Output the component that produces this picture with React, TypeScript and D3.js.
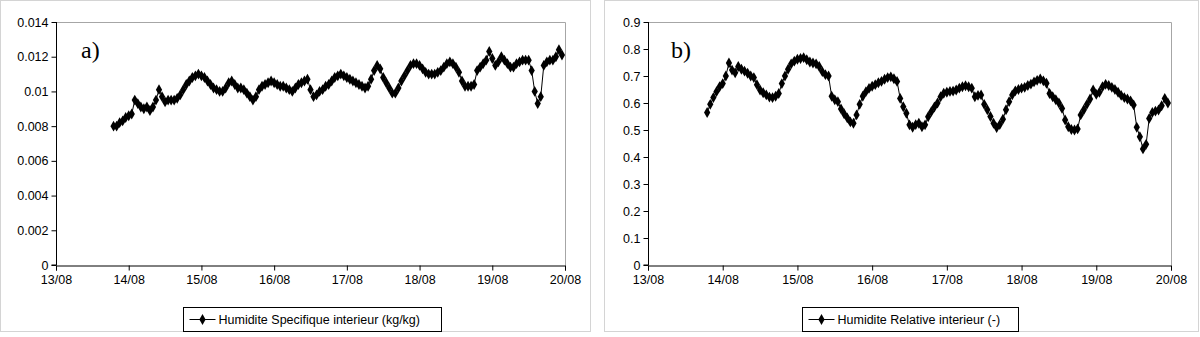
import React, { useEffect, useRef } from 'react';
import * as d3 from 'd3';

// jours (août) et début de la série : 13/08 19h00, pas horaire
const dayTicks = [13, 14, 15, 16, 17, 18, 19, 20];
const startDay = 13 + 19 / 24;
const stepDay = 1 / 24;

const specificTicks = [0, 0.002, 0.004, 0.006, 0.008, 0.01, 0.012, 0.014];
const relativeTicks = [0, 0.1, 0.2, 0.3, 0.4, 0.5, 0.6, 0.7, 0.8, 0.9];

// Humidite specifique interieur (kg/kg)
const specificHumidity = [
  0.0080, 0.0080, 0.0082, 0.0083, 0.0085, 0.0086, 0.0087, 0.0095, 0.0093, 0.0091,
  0.0090, 0.0091, 0.0089, 0.0091, 0.0095, 0.0101, 0.0097, 0.0094, 0.0095, 0.0095,
  0.0095, 0.0096, 0.0098, 0.0101, 0.0104, 0.0106, 0.0108, 0.0109, 0.0110, 0.0109,
  0.0108, 0.0106, 0.0104, 0.0102, 0.0101, 0.0100, 0.0100, 0.0102, 0.0105, 0.0106,
  0.0104, 0.0102, 0.0102, 0.0101, 0.0099, 0.0097, 0.0095, 0.0097, 0.0101, 0.0103,
  0.0104, 0.0105, 0.0106, 0.0105, 0.0104, 0.0103, 0.0103, 0.0102, 0.0101, 0.0100,
  0.0102, 0.0104, 0.0105, 0.0106, 0.0107, 0.0101, 0.0097, 0.0098, 0.0100, 0.0101,
  0.0103, 0.0104, 0.0106, 0.0108, 0.0109, 0.0110, 0.0109, 0.0108, 0.0107, 0.0106,
  0.0105, 0.0104, 0.0103, 0.0102, 0.0103, 0.0107, 0.0112, 0.0115, 0.0113, 0.0108,
  0.0105, 0.0102, 0.0099, 0.0099, 0.0102, 0.0106, 0.0109, 0.0112, 0.0115, 0.0116,
  0.0116, 0.0115, 0.0113, 0.0111, 0.0110, 0.0110, 0.0110, 0.0111, 0.0112, 0.0114,
  0.0116, 0.0117, 0.0116, 0.0114, 0.0111, 0.0106, 0.0103, 0.0103, 0.0103, 0.0104,
  0.0112, 0.0114, 0.0116, 0.0118, 0.0123, 0.0119, 0.0115, 0.0117, 0.0120, 0.0118,
  0.0116, 0.0114, 0.0114, 0.0116, 0.0117, 0.0118, 0.0118, 0.0118, 0.0112, 0.0100,
  0.0093, 0.0097, 0.0115, 0.0117, 0.0118, 0.0118, 0.0120, 0.0124, 0.0121,
];

// Humidite relative interieur (-)
const relativeHumidity = [
  0.565, 0.595, 0.620, 0.642, 0.660, 0.672, 0.700, 0.748, 0.722, 0.712,
  0.735, 0.725, 0.718, 0.710, 0.700, 0.694, 0.668, 0.648, 0.638, 0.630,
  0.622, 0.620, 0.625, 0.635, 0.672, 0.700, 0.725, 0.745, 0.755, 0.762,
  0.765, 0.768, 0.760, 0.752, 0.748, 0.745, 0.735, 0.716, 0.705, 0.700,
  0.625, 0.612, 0.605, 0.578, 0.560, 0.545, 0.530, 0.525, 0.556, 0.595,
  0.625, 0.642, 0.654, 0.662, 0.668, 0.675, 0.680, 0.688, 0.694, 0.697,
  0.690, 0.680, 0.617, 0.586, 0.562, 0.519, 0.510, 0.520, 0.525, 0.512,
  0.519, 0.549, 0.568, 0.585, 0.600, 0.623, 0.636, 0.640, 0.643, 0.644,
  0.648, 0.655, 0.660, 0.664, 0.660, 0.655, 0.623, 0.628, 0.630, 0.595,
  0.575, 0.550, 0.525, 0.509, 0.520, 0.540, 0.575, 0.605, 0.630, 0.645,
  0.650, 0.655, 0.658, 0.665, 0.670, 0.678, 0.684, 0.689, 0.682, 0.673,
  0.635, 0.623, 0.612, 0.600, 0.580, 0.537, 0.512, 0.502, 0.500, 0.504,
  0.556, 0.575, 0.595, 0.615, 0.648, 0.632, 0.640, 0.660, 0.669, 0.665,
  0.658, 0.650, 0.640, 0.628, 0.620, 0.615, 0.608, 0.593, 0.510, 0.475,
  0.430, 0.447, 0.543, 0.565, 0.570, 0.574, 0.590, 0.617, 0.600,
];

const panels = [
  {
    frame: { x: 0.5, y: 0.5, w: 590, h: 331 },
    plot: { left: 56, right: 565, top: 22, bottom: 265 },
    yTicks: specificTicks,
    digits: 3,
    values: specificHumidity,
    tag: 'a)',
    tagX: 81,
    legend: { x: 183.5, y: 307.5, w: 258, text: 'Humidite Specifique interieur (kg/kg)' },
  },
  {
    frame: { x: 604.5, y: 0.5, w: 594, h: 331 },
    plot: { left: 648, right: 1171, top: 22, bottom: 265 },
    yTicks: relativeTicks,
    digits: 1,
    values: relativeHumidity,
    tag: 'b)',
    tagX: 671,
    legend: { x: 802.5, y: 307.5, w: 216, text: 'Humidite Relative interieur (-)' },
  },
];

const App = () => {
  const chartRef = useRef<HTMLDivElement>(null);

  useEffect(() => {
    d3.select(chartRef.current).selectAll('*').remove();

    const svg = d3.select(chartRef.current)
      .append('svg')
      .attr('width', 1200)
      .attr('height', 337)
      .style('position', 'absolute')
      .style('left', 0)
      .style('top', 0)
      .style('font-family', '"Liberation Sans", Arial, sans-serif');

    svg.append('rect').attr('width', 1200).attr('height', 337).attr('fill', '#fff');

    const diamond = d3.symbol().type(d3.symbolDiamond).size(34);

    panels.forEach(p => {
      const { plot } = p;

      svg.append('rect')
        .attr('x', p.frame.x).attr('y', p.frame.y)
        .attr('width', p.frame.w).attr('height', p.frame.h)
        .attr('fill', 'none').attr('stroke', '#d4d4d4');

      const x = d3.scaleLinear()
        .domain([dayTicks[0], dayTicks[dayTicks.length - 1]])
        .range([plot.left, plot.right]);

      const y = d3.scaleLinear()
        .domain([0, p.yTicks[p.yTicks.length - 1]])
        .range([plot.bottom, plot.top]);

      // cadre de la zone de tracé (haut, droite)
      svg.append('path')
        .attr('d', `M${plot.left},${plot.top + 0.5}H${plot.right + 0.5}V${plot.bottom}`)
        .attr('fill', 'none').attr('stroke', '#a6a6a6');

      // axes
      const yAxis = svg.append('g')
        .attr('transform', `translate(${plot.left + 0.5},0)`)
        .call(d3.axisLeft(y).tickValues(p.yTicks).tickSize(5).tickPadding(3)
          .tickFormat(d => String(+(+d).toFixed(p.digits))));

      const xAxis = svg.append('g')
        .attr('transform', `translate(0,${plot.bottom + 0.5})`)
        .call(d3.axisBottom(x).tickValues(dayTicks).tickSize(5).tickPadding(5)
          .tickFormat(d => `${d}/08`));

      [yAxis, xAxis].forEach(g => {
        g.select('.domain').attr('stroke', '#000');
        g.selectAll('.tick line').attr('stroke', '#000');
        g.selectAll('.tick text')
          .attr('fill', '#000')
          .style('font-size', '12.5px')
          .style('font-family', '"Liberation Sans", Arial, sans-serif');
      });
      yAxis.select('.domain').attr('d', `M-5,${y(0)}H0V${plot.top}`);

      const pts = p.values.map((v, i) => ({ t: startDay + i * stepDay, v }));

      const line = d3.line<{ t: number; v: number }>()
        .x(d => x(d.t))
        .y(d => y(d.v));

      svg.append('path')
        .datum(pts)
        .attr('d', line)
        .attr('fill', 'none')
        .attr('stroke', '#000')
        .attr('stroke-width', 1);

      svg.append('g')
        .selectAll('path')
        .data(pts)
        .enter().append('path')
        .attr('d', diamond)
        .attr('transform', d => `translate(${x(d.t)},${y(d.v)})`)
        .attr('fill', '#000');

      svg.append('text')
        .attr('x', p.tagX)
        .attr('y', 58)
        .style('font-family', '"Liberation Serif", "Times New Roman", serif')
        .style('font-size', '24px')
        .text(p.tag);

      // légende
      const lg = p.legend;
      svg.append('rect')
        .attr('x', lg.x).attr('y', lg.y)
        .attr('width', lg.w).attr('height', 24)
        .attr('fill', '#fff').attr('stroke', '#000');

      svg.append('line')
        .attr('x1', lg.x + 6).attr('x2', lg.x + 32)
        .attr('y1', lg.y + 12).attr('y2', lg.y + 12)
        .attr('stroke', '#000');

      svg.append('path')
        .attr('d', diamond)
        .attr('transform', `translate(${lg.x + 19},${lg.y + 12})`)
        .attr('fill', '#000');

      svg.append('text')
        .attr('x', lg.x + 35)
        .attr('y', lg.y + 16.5)
        .style('font-size', '12.5px')
        .text(lg.text);
    });
  }, []);

  return <div ref={chartRef}></div>;
};

export default App;
